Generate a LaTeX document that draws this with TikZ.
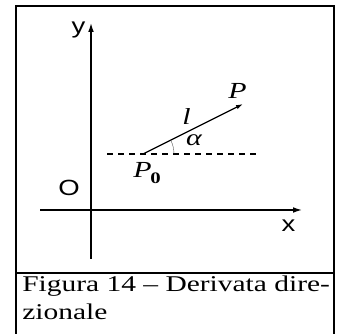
\documentclass[tikz,border=0pt]{standalone}
\usepackage{fontspec}
\setmainfont{Liberation Serif}
\setsansfont{Liberation Sans}
\usetikzlibrary{arrows.meta}
\definecolor{fig-line}{RGB}{0,0,0}
\definecolor{fig-arc}{RGB}{80,80,80}

\begin{document}
\begin{tikzpicture}[x=1pt,y=1pt,
    axis/.style={line width=2.3pt, -{Latex[length=11pt,width=5.5pt]}},
    lab/.style={font=\sffamily\fontsize{22}{22}\selectfont, inner sep=0pt, xscale=1.25, transform shape},
    mlab/.style={font=\itshape\fontsize{23}{23}\selectfont, inner sep=0pt, xscale=1.3, transform shape},
    captext/.style={font=\fontsize{22.5}{22.5}\selectfont, inner sep=0pt, anchor=base west, xscale=1.31, transform shape}]
    \useasboundingbox (0,0) rectangle (337,334);

    % frame and caption divider
    \draw[line width=2.5pt, fig-line] (16,0) -- (16,328) -- (334,328) -- (334,0);
    \draw[line width=2.5pt, fig-line] (16,61) -- (334,61);

    % axes
    \coordinate (ybot) at (91,75);
    \coordinate (ytop) at (91,313);
    \coordinate (xleft) at (40,124);
    \coordinate (xright) at (304,124);
    \draw[axis] (ybot) -- (ytop);
    \draw[axis] (xleft) -- (xright);
    \node[lab] (ylab) at (78.5,304) {y};
    \node[lab] (xlab) at (288.5,108) {x};
    \node[lab] (olab) at (69,146.5) {O};

    % direction
    \coordinate (P0) at (143,180);
    \coordinate (P) at (243,230);
    \coordinate (dl) at (107,180);
    \coordinate (dr) at (258,180);
    \draw[line width=1.2pt, dash pattern=on 6pt off 5pt] (dl) -- (dr);
    \draw[line width=1.3pt, -{Latex[length=7pt,width=4.5pt]}] (P0) -- (P);
    \draw[fig-arc, thin] ([shift={(31,0)}]P0) arc (0:26.6:31);

    \node[mlab] (plab) at (237.5,243.5) {P};
    \node[mlab] (llab) at (186.5,217) {l};
    \node[mlab] (alab) at (194,193.5) {α};
    \node[mlab] (p0lab) at (142.5,164) {P\rlap{\smash{\kern-1pt\raisebox{-6pt}{\upshape\bfseries\fontsize{16}{16}\selectfont 0}}}};

    % caption
    \node[captext] (cap1) at (22,42) {Figura 14 – Derivata dire-};
    \node[captext] (cap2) at (22,14) {zionale};
\end{tikzpicture}
\end{document}
